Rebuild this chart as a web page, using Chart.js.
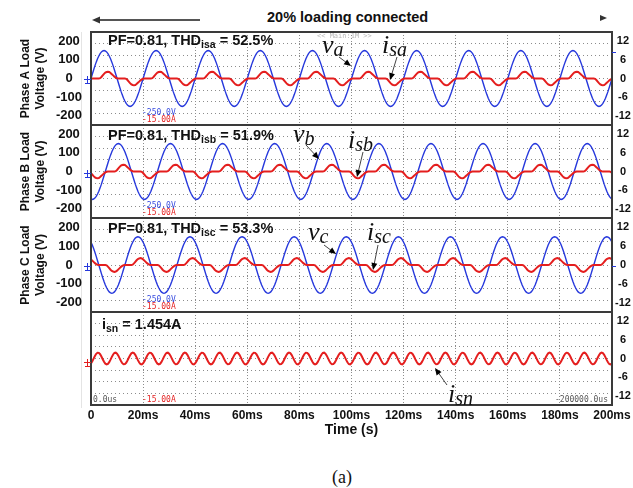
<!DOCTYPE html>
<html>
<head>
<meta charset="utf-8">
<script src="https://cdn.jsdelivr.net/npm/chart.js@4.4.1/dist/chart.umd.min.js"></script>
<style>
body { margin: 0; background: #fff; width: 633px; height: 488px; position: relative; overflow: hidden; font-family: "Liberation Sans", Arial, sans-serif; }
canvas { position: absolute; left: 0; }
#title { position: absolute; left: 267px; top: 9px; font: bold 14.5px "Liberation Sans", Arial, sans-serif; color: #111; white-space: nowrap; }
#cap { position: absolute; left: 332px; top: 468px; font: 18px "Liberation Serif", "Times New Roman", serif; line-height: 18px; color: #111; }
#edge { position: absolute; left: 81px; top: 32px; width: 1px; height: 376px; background: #e4e4e4; }
</style>
</head>
<body>
<div id="edge"></div>
<svg width="633" height="40" style="position:absolute;left:0;top:0">
  <line x1="99" y1="20" x2="200" y2="20" stroke="#555" stroke-width="2"/>
  <polygon points="92,20 100,16.5 100,23.5" fill="#333"/>
  <polygon points="600,15 607,18 600,21" fill="#333"/>
</svg>
<div id="title">20% loading connected</div>
<canvas id="pA" width="633" height="101" style="top:28px"></canvas>
<canvas id="pB" width="633" height="101" style="top:121px"></canvas>
<canvas id="pC" width="633" height="102" style="top:214px"></canvas>
<canvas id="pN" width="633" height="137" style="top:308px"></canvas>
<div id="cap">(a)</div>
<script>
// axis ticks
const timeTicks = [0, 20, 40, 60, 80, 100, 120, 140, 160, 180, 200];
const timeLabels = ['0', '20ms', '40ms', '60ms', '80ms', '100ms', '120ms', '140ms', '160ms', '180ms', '200ms'];
const voltTicks = [-200, -100, 0, 100, 200];
const currTicks = [-12, -6, 0, 6, 12];
const scopeDivisions = [-3, -2, -1, 0, 1, 2, 3];

const sampleStep = 0.5;
const cycleCount = 10;
const vaCycle = [0, 23, 46, 68, 88, 106, 121, 134, 143, 148, 150, 148, 143, 134, 121, 106, 88, 68, 46, 23,
  0, -23, -46, -68, -88, -106, -121, -134, -143, -148, -150, -148, -143, -134, -121, -106, -88, -68, -46, -23];
const isaCycle = [-0.1, 0, 0, 0, 0, 0, 0, 0.1, 0.5, 1.0, 1.5, 1.9, 2.1, 2.2, 2.1, 1.8, 1.4, 1.0, 0.6, 0.3,
  0.1, 0, 0, 0, 0, 0, 0, -0.1, -0.5, -1.0, -1.5, -1.9, -2.1, -2.2, -2.1, -1.8, -1.4, -1.0, -0.6, -0.3];
const vbCycle = [-148, -150, -148, -143, -134, -121, -106, -88, -68, -46, -23, 0, 23, 46, 68, 88, 106, 121, 134, 143,
  148, 150, 148, 143, 134, 121, 106, 88, 68, 46, 23, 0, -23, -46, -68, -88, -106, -121, -134, -143];
const isbCycle = [-0.5, -1.0, -1.5, -1.9, -2.1, -2.2, -2.1, -1.8, -1.4, -1.0, -0.6, -0.3, -0.1, 0, 0, 0, 0, 0, 0, 0.1,
  0.5, 1.0, 1.5, 1.9, 2.1, 2.2, 2.1, 1.8, 1.4, 1.0, 0.6, 0.3, 0.1, 0, 0, 0, 0, 0, 0, -0.1];
const vcCycle = [121, 106, 88, 68, 46, 23, 0, -23, -46, -68, -88, -106, -121, -134, -143, -148, -150, -148, -143, -134,
  -121, -106, -88, -68, -46, -23, 0, 23, 46, 68, 88, 106, 121, 134, 143, 148, 150, 148, 143, 134];
const iscCycle = [1.8, 1.4, 1.0, 0.6, 0.3, 0.1, 0, 0, 0, 0, 0, 0, -0.1, -0.5, -1.0, -1.5, -1.9, -2.1, -2.2, -2.1,
  -1.8, -1.4, -1.0, -0.6, -0.3, -0.1, 0, 0, 0, 0, 0, 0, 0.1, 0.5, 1.0, 1.5, 1.9, 2.1, 2.2, 2.1];
// neutral current: three 150 Hz cycles in the same window
const isnCycle = [-1.57, -0.92, -0.06, 0.81, 1.50, 1.87, 1.82, 1.38, 0.64, -0.24, -1.07, -1.66, -1.90, -1.72, -1.16, -0.36, 0.53, 1.30, 1.79, 1.88,
  1.57, 0.92, 0.06, -0.81, -1.50, -1.87, -1.82, -1.38, -0.64, 0.24, 1.07, 1.66, 1.90, 1.72, 1.16, 0.36, -0.53, -1.30, -1.79, -1.88];

const BLUE = '#2638dc';
const RED = '#e41e1e';
const SANS = '"Liberation Sans", Arial, sans-serif';
const SERIF = '"Liberation Serif", "Times New Roman", serif';
const MONO = '"DejaVu Sans Mono", monospace';

Chart.defaults.font.family = SANS;

function tile(cycle) {
    const pts = [];
    const n = cycle.length * cycleCount;
    for (let i = 0; i <= n; i++) {
        pts.push({x: i * sampleStep, y: cycle[i % cycle.length]});
    }
    return pts;
}

function drawParts(ctx, x, y, parts) {
    ctx.textBaseline = 'alphabetic';
    ctx.textAlign = 'left';
    parts.forEach(p => {
        ctx.font = p[1];
        ctx.fillStyle = '#111';
        ctx.fillText(p[0], x, y + p[2]);
        x += ctx.measureText(p[0]).width;
    });
}

function arrow(ctx, x1, y1, x2, y2) {
    const a = Math.atan2(y2 - y1, x2 - x1), L = 7, W = 3;
    ctx.strokeStyle = '#444';
    ctx.lineWidth = 1;
    ctx.beginPath();
    ctx.moveTo(x1, y1);
    ctx.lineTo(x2 - 4 * Math.cos(a), y2 - 4 * Math.sin(a));
    ctx.stroke();
    ctx.fillStyle = '#000';
    ctx.beginPath();
    ctx.moveTo(x2, y2);
    ctx.lineTo(x2 - L * Math.cos(a) + W * Math.sin(a), y2 - L * Math.sin(a) - W * Math.cos(a));
    ctx.lineTo(x2 - L * Math.cos(a) - W * Math.sin(a), y2 - L * Math.sin(a) + W * Math.cos(a));
    ctx.closePath();
    ctx.fill();
}

function ground(ctx, x, y, color) {
    ctx.strokeStyle = color;
    ctx.lineWidth = 1;
    ctx.beginPath();
    ctx.moveTo(84, y + 0.5); ctx.lineTo(91, y + 0.5);
    ctx.moveTo(87.5, y - 3); ctx.lineTo(87.5, y + 4);
    ctx.moveTo(85, y + 4.5); ctx.lineTo(90, y + 4.5);
    ctx.stroke();
}

const mainFont = 'bold 14.5px ' + SANS;
const subFont = 'bold 10.5px ' + SANS;
const symFont = 'italic 26px ' + SERIF;
const symSub = 'italic 20px ' + SERIF;

const panels = [
    {id: 'pA', canvasTop: 28, bottom: 125, title: ['Phase A Load', 'Voltage (V)'], v: vaCycle, i: isaCycle,
     note: [108, 45, [['PF=0.81, THD', mainFont, 0], ['isa', subFont, 3], [' = 52.5%', mainFont, 0]]],
     vLabel: [322, 53, 'a'], iLabel: [382, 53, 'sa'],
     vArrow: [339, 57, 351, 66], iArrow: [397, 57, 390, 80], zero: 79, mark: 52},
    {id: 'pB', canvasTop: 121, bottom: 218, title: ['Phase B Load', 'Voltage (V)'], v: vbCycle, i: isbCycle,
     note: [108, 140, [['PF=0.81, THD', mainFont, 0], ['isb', subFont, 3], [' = 51.9%', mainFont, 0]]],
     vLabel: [293, 142, 'b'], iLabel: [348, 148, 'sb'],
     vArrow: [306, 145, 319, 159], iArrow: [363, 152, 357, 177], zero: 173},
    {id: 'pC', canvasTop: 214, bottom: 312, title: ['Phase C Load', 'Voltage (V)'], v: vcCycle, i: iscCycle,
     note: [108, 233, [['PF=0.81, THD', mainFont, 0], ['isc', subFont, 3], [' = 53.3%', mainFont, 0]]],
     vLabel: [308, 240, 'c'], iLabel: [367, 240, 'sc'],
     vArrow: [324, 245, 336, 254], iArrow: [378, 245, 373, 270], zero: 266, mark: 266},
    {id: 'pN', canvasTop: 308, bottom: 405, title: null, v: null, i: isnCycle, last: true,
     note: [102, 329, [['i', mainFont, 0], ['sn', subFont, 3], [' = 1.454A', mainFont, 0]]],
     iLabel: [448, 402, 'sn'], iArrow: [447, 385, 435, 368], zero: 362}
];

function decor(p) {
    return {
        id: 'decor',
        afterDraw(chart) {
            const ctx = chart.ctx;
            const a = chart.chartArea;
            ctx.save();
            ctx.strokeStyle = '#3a3a3a';
            ctx.lineWidth = 2;
            ctx.strokeRect(a.left, a.top, a.right - a.left, a.bottom - a.top);
            ctx.translate(0, -p.canvasTop);

            // scope read-outs
            ctx.font = '8px ' + MONO;
            ctx.textBaseline = 'middle';
            ctx.textAlign = 'left';
            if (p.v) {
                ctx.fillStyle = '#3a4ee0';
                ctx.fillText('-250.0V', 142, p.bottom - 12);
            }
            ctx.fillStyle = RED;
            ctx.fillText('-15.00A', 142, p.bottom - 5);
            if (p.last) {
                ctx.fillStyle = '#555';
                ctx.fillText('0.0us', 93, p.bottom - 5);
                ctx.textAlign = 'right';
                ctx.fillText('-200000.0us', 608, p.bottom - 5);
            }
            if (p.id === 'pA') {
                ctx.fillStyle = '#b8b8b8';
                ctx.font = '7px ' + MONO;
                ctx.textAlign = 'left';
                ctx.fillText('<< Main:1M >>', 317, 36);
            }
            ground(ctx, 84, p.zero, p.v ? BLUE : RED);
            if (p.mark) {
                ctx.strokeStyle = BLUE;
                ctx.beginPath();
                ctx.moveTo(612, p.mark + 0.5); ctx.lineTo(616, p.mark + 0.5);
                ctx.stroke();
            }

            drawParts(ctx, p.note[0], p.note[1], p.note[2]);
            if (p.vLabel) {
                drawParts(ctx, p.vLabel[0], p.vLabel[1], [['v', symFont, 0], [p.vLabel[2], symSub, 3]]);
                arrow(ctx, ...p.vArrow);
            }
            drawParts(ctx, p.iLabel[0], p.iLabel[1], [['i', symFont, 0], [p.iLabel[2], symSub, 3]]);
            arrow(ctx, ...p.iArrow);
            ctx.restore();
        }
    };
}

panels.forEach(p => {
    const datasets = [{
        label: 'current', data: tile(p.i), yAxisID: 'yI',
        borderColor: RED, borderWidth: 2, pointRadius: 0, tension: 0
    }];
    if (p.v) {
        datasets.push({
            label: 'voltage', data: tile(p.v), yAxisID: 'yV',
            borderColor: BLUE, borderWidth: 1.4, pointRadius: 0, tension: 0
        });
    }
    new Chart(document.getElementById(p.id), {
        type: 'line',
        data: {datasets: datasets},
        options: {
            responsive: false,
            animation: false,
            events: [],
            parsing: false,
            normalized: true,
            layout: {padding: {top: 4, bottom: p.last ? 0 : 4, left: 0, right: 0}},
            plugins: {legend: {display: false}, tooltip: {enabled: false}},
            scales: {
                x: {
                    type: 'linear', min: 0, max: 200,
                    afterBuildTicks: s => { s.ticks = timeTicks.map(v => ({value: v})); },
                    ticks: {
                        display: !!p.last, autoSkip: false, maxRotation: 0, padding: 3,
                        color: '#111', font: {size: 12, weight: 'bold'},
                        callback: (v, i) => timeLabels[i]
                    },
                    grid: {color: '#8c8c8c', lineWidth: 1, drawTicks: false},
                    border: {display: false, dash: [1, 2]},
                    title: {
                        display: !!p.last, text: 'Time (s)', color: '#111',
                        font: {size: 14, weight: 'bold'}, padding: {top: 0, bottom: 6}
                    },
                    afterFit: s => { s.height = p.last ? 40 : 0; s.paddingLeft = 0; s.paddingRight = 0; }
                },
                yV: {
                    position: 'left', min: -250, max: 250,
                    afterBuildTicks: s => { s.ticks = voltTicks.map(v => ({value: v})); },
                    ticks: {
                        display: !!p.v, autoSkip: false, crossAlign: 'center', padding: 9,
                        color: '#111', font: {size: 13, weight: 'bold'}
                    },
                    grid: {display: false, drawTicks: false},
                    border: {display: false},
                    title: {
                        display: !!p.title, text: p.title || '', color: '#111',
                        font: {size: 12, weight: 'bold', lineHeight: 1.25}, padding: {top: 18.5, bottom: 0}
                    },
                    afterFit: s => { s.width = 91; s.paddingTop = 0; s.paddingBottom = 0; }
                },
                yI: {
                    position: 'right', min: -15, max: 15,
                    afterBuildTicks: s => { s.ticks = currTicks.map(v => ({value: v})); },
                    ticks: {
                        autoSkip: false, crossAlign: 'center', padding: 3,
                        color: '#111', font: {size: 11, weight: 'bold'}
                    },
                    grid: {display: false, drawTicks: false},
                    border: {display: false},
                    afterFit: s => { s.width = 21; s.paddingTop = 0; s.paddingBottom = 0; }
                },
                yG: {
                    position: 'right', min: -4, max: 4,
                    afterBuildTicks: s => { s.ticks = scopeDivisions.map(v => ({value: v})); },
                    ticks: {display: false},
                    grid: {color: '#8c8c8c', lineWidth: 1, drawTicks: false},
                    border: {display: false, dash: [1, 3]},
                    afterFit: s => { s.width = 0; s.paddingTop = 0; s.paddingBottom = 0; }
                }
            }
        },
        plugins: [decor(p)]
    });
});
</script>
</body>
</html>
